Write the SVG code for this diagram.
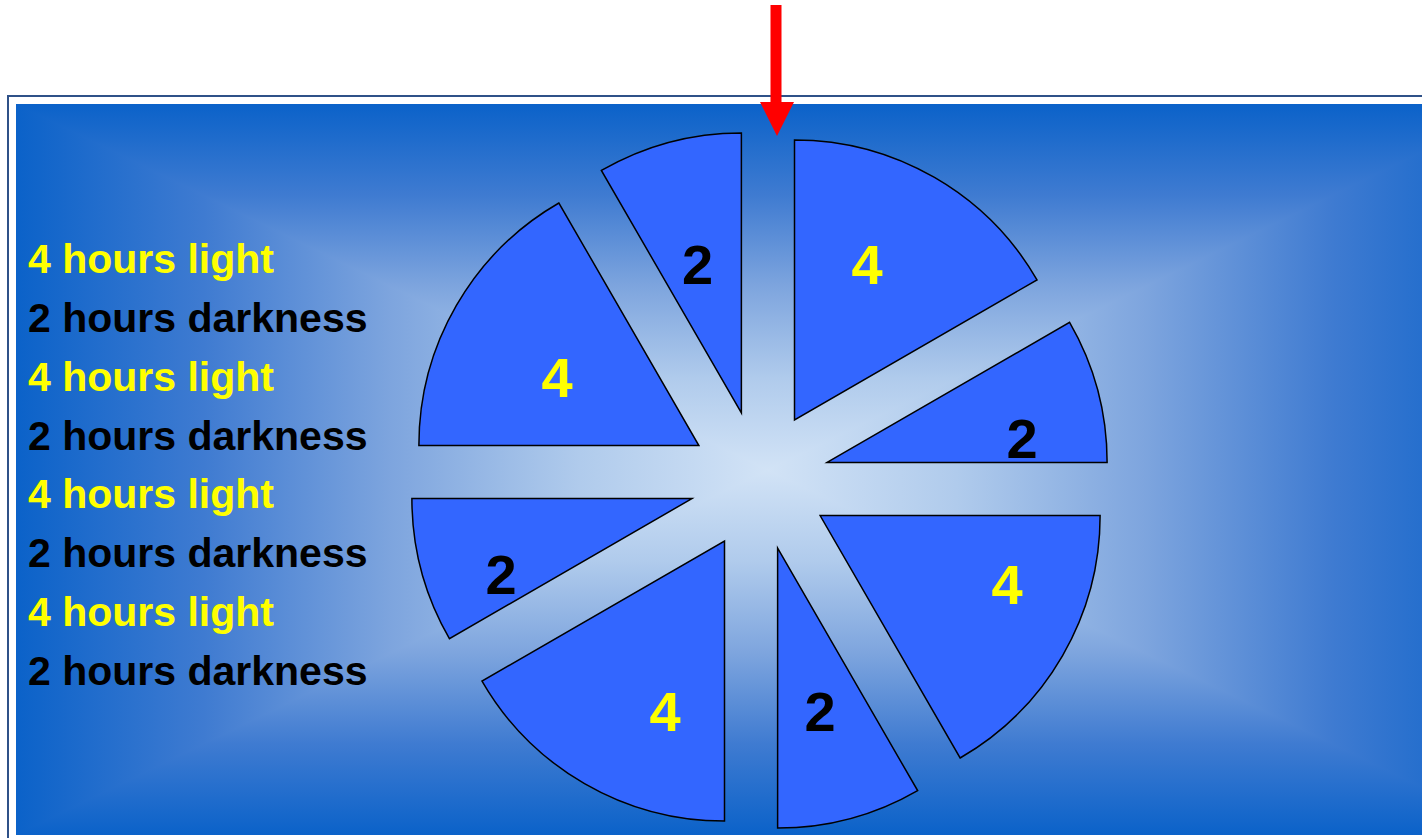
<svg xmlns="http://www.w3.org/2000/svg" width="1422" height="838" viewBox="0 0 1422 838">
<style>
.slice{fill:#3366ff;stroke:#000;stroke-width:1.5;stroke-linejoin:miter}
.lbl{font-family:"Liberation Sans",Arial,sans-serif;font-weight:bold}
.big{font-size:56px;text-anchor:middle}
.side{font-size:41px}
.y{fill:#ffff00}
.k{fill:#000}
</style>
<defs>
<linearGradient id="gh" gradientUnits="userSpaceOnUse" x1="16" y1="0" x2="1520" y2="0">
<stop offset="0" stop-color="#0b62c9"/>
<stop offset="0.125" stop-color="#3f7bd1"/>
<stop offset="0.25" stop-color="#7ea5de"/>
<stop offset="0.375" stop-color="#b0cbec"/>
<stop offset="0.5" stop-color="#d2e3f6"/>
<stop offset="0.625" stop-color="#b0cbec"/>
<stop offset="0.75" stop-color="#7ea5de"/>
<stop offset="0.875" stop-color="#3f7bd1"/>
<stop offset="1" stop-color="#0b62c9"/>
</linearGradient>
<linearGradient id="gt" gradientUnits="userSpaceOnUse" x1="0" y1="104" x2="0" y2="470">
<stop offset="0" stop-color="#0b62c9"/>
<stop offset="0.25" stop-color="#3f7bd1"/>
<stop offset="0.5" stop-color="#7ea5de"/>
<stop offset="0.75" stop-color="#b0cbec"/>
<stop offset="1" stop-color="#d2e3f6"/>
</linearGradient>
<linearGradient id="gb" gradientUnits="userSpaceOnUse" x1="0" y1="835" x2="0" y2="470">
<stop offset="0" stop-color="#0b62c9"/>
<stop offset="0.25" stop-color="#3f7bd1"/>
<stop offset="0.5" stop-color="#7ea5de"/>
<stop offset="0.75" stop-color="#b0cbec"/>
<stop offset="1" stop-color="#d2e3f6"/>
</linearGradient>
</defs>
<rect width="1422" height="838" fill="#ffffff"/>
<g id="background">
<rect x="8" y="96" width="1500" height="800" fill="none" stroke="#2f5188" stroke-width="2"/>
<rect x="16" y="104" width="1504" height="731" fill="url(#gh)"/>
<polygon points="16,104 1520,104 768,470" fill="url(#gt)"/>
<polygon points="16,835 1520,835 768,470" fill="url(#gb)"/>
</g>
<g id="slice-1">
<path class="slice" d="M794.5,419.88 L794.5,139.88 A280,280 0 0 1 1036.99,279.88 Z"/>
<text class="lbl big y" x="867" y="284">4</text>
</g>
<g id="slice-2">
<path class="slice" d="M827.11,462.38 L1069.6,322.38 A280,280 0 0 1 1107.11,462.38 Z"/>
<text class="lbl big k" x="1022" y="458">2</text>
</g>
<g id="slice-3">
<path class="slice" d="M820.12,515.5 L1100.12,515.5 A280,280 0 0 1 960.12,757.99 Z"/>
<text class="lbl big y" x="1007" y="604">4</text>
</g>
<g id="slice-4">
<path class="slice" d="M777.62,548.11 L917.62,790.6 A280,280 0 0 1 777.62,828.11 Z"/>
<text class="lbl big k" x="820" y="731">2</text>
</g>
<g id="slice-5">
<path class="slice" d="M724.5,541.12 L724.5,821.12 A280,280 0 0 1 482.01,681.12 Z"/>
<text class="lbl big y" x="665" y="731">4</text>
</g>
<g id="slice-6">
<path class="slice" d="M691.89,498.62 L449.4,638.62 A280,280 0 0 1 411.89,498.62 Z"/>
<text class="lbl big k" x="501" y="594">2</text>
</g>
<g id="slice-7">
<path class="slice" d="M698.88,445.5 L418.88,445.5 A280,280 0 0 1 558.88,203.01 Z"/>
<text class="lbl big y" x="557" y="397">4</text>
</g>
<g id="slice-8">
<path class="slice" d="M741.38,412.88 L601.38,170.4 A280,280 0 0 1 741.38,132.88 Z"/>
<text class="lbl big k" x="697.5" y="284">2</text>
</g>
<g id="legend">
<text class="lbl side y" x="28" y="273">4 hours light</text>
<text class="lbl side k" x="28" y="331.9">2 hours darkness</text>
<text class="lbl side y" x="28" y="390.7">4 hours light</text>
<text class="lbl side k" x="28" y="449.6">2 hours darkness</text>
<text class="lbl side y" x="28" y="508.4">4 hours light</text>
<text class="lbl side k" x="28" y="567.3">2 hours darkness</text>
<text class="lbl side y" x="28" y="626.1">4 hours light</text>
<text class="lbl side k" x="28" y="685">2 hours darkness</text>
</g>
<g id="connectors">
<path d="M770.5,5 L781.5,5 L781.5,102 L794,102 L777,136 L760,102 L770.5,102 Z" fill="#ff0000"/>
</g>
</svg>
